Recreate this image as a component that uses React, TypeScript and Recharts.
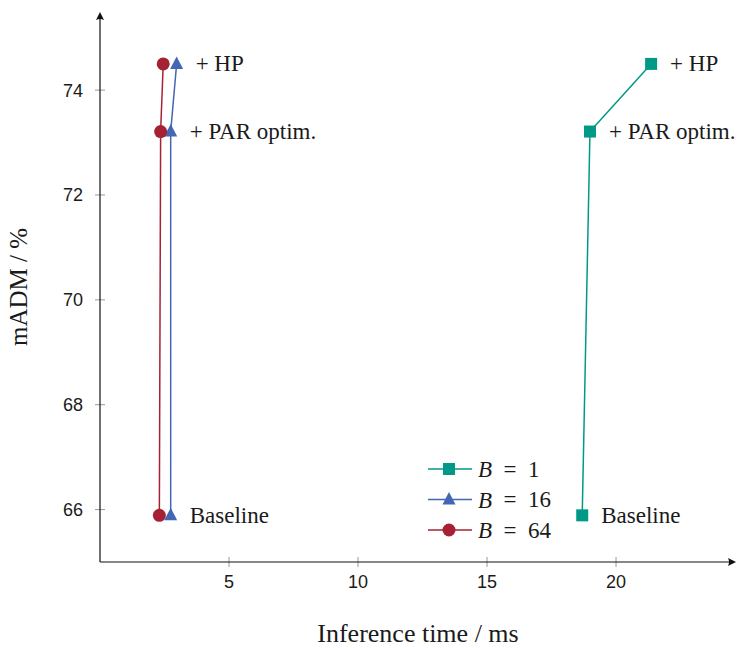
import React from "react";
import { ScatterChart, Scatter, XAxis, YAxis } from "recharts";

// steps of the optimisation, bottom to top
const steps = ["Baseline", "+ PAR optim.", "+ HP"];
const madm = [65.89, 73.21, 74.5];
const timeB1 = [18.69, 18.99, 21.36];
const timeB16 = [2.74, 2.74, 2.97];
const timeB64 = [2.3, 2.35, 2.45];
const xTicks = [5, 10, 15, 20];
const yTicks = [66, 68, 70, 72, 74];

const W = 737;
const H = 648;
const PLOT_LEFT = 100;
const PLOT_RIGHT = 736;
const PLOT_TOP = 12;
const X_AXIS_H = 86;
const PLOT_BOTTOM = H - X_AXIS_H;
const X_DOMAIN = [0, 24.65];
const Y_DOMAIN = [65, 75.49];

const SERIF = "'Liberation Serif', 'DejaVu Serif', serif";
const SANS = "'Liberation Sans', 'DejaVu Sans', sans-serif";

const series = [
  { name: "1", color: "#009988", kind: "square", times: timeB1, labels: true },
  { name: "16", color: "#4466B4", kind: "triangle", times: timeB16, labels: true },
  { name: "64", color: "#A52234", kind: "circle", times: timeB64, labels: false },
];

const marker = (kind: string, cx: number, cy: number, color: string) => {
  if (kind === "square")
    return <rect x={cx - 6} y={cy - 6} width={12} height={12} fill={color} />;
  if (kind === "triangle")
    return (
      <polygon
        points={`${cx},${cy - 7.5} ${cx - 6.5},${cy + 5} ${cx + 6.5},${cy + 5}`}
        fill={color}
      />
    );
  return <circle cx={cx} cy={cy} r={6.5} fill={color} />;
};

const makeShape = (kind: string, color: string) => (props: any) => {
  const { cx, cy, payload } = props;
  return (
    <g>
      {marker(kind, cx, cy, color)}
      {payload?.label ? (
        <text
          x={cx + 19}
          y={cy}
          dominantBaseline="central"
          fontFamily={SERIF}
          fontSize={23}
          fill="#1a1a1a"
        >
          {payload.label}
        </text>
      ) : null}
    </g>
  );
};

const LegendBox = () => (
  <svg
    width={150}
    height={92}
    style={{ position: "absolute", left: 425, top: 455 }}
  >
    {series.map((s, i) => {
      const y = 14 + i * 30.5;
      return (
        <g key={s.name}>
          <line x1={3} x2={47} y1={y} y2={y} stroke={s.color} strokeWidth={1.5} />
          {marker(s.kind, 24, y, s.color)}
          <text
            x={53}
            y={y}
            dominantBaseline="central"
            fontFamily={SERIF}
            fontSize={23}
            fill="#1a1a1a"
          >
            <tspan fontStyle="italic">B</tspan>{"\u2002=\u2002" + s.name}
          </text>
        </g>
      );
    })}
  </svg>
);

const px = (v: number) =>
  PLOT_LEFT + ((v - X_DOMAIN[0]) / (X_DOMAIN[1] - X_DOMAIN[0])) * (PLOT_RIGHT - PLOT_LEFT);
const py = (v: number) =>
  PLOT_BOTTOM - ((v - Y_DOMAIN[0]) / (Y_DOMAIN[1] - Y_DOMAIN[0])) * (PLOT_BOTTOM - PLOT_TOP);

const AxesOverlay = () => (
  <svg
    width={W}
    height={H}
    style={{ position: "absolute", left: 0, top: 0, pointerEvents: "none" }}
  >
    {xTicks.map((t) => (
      <line key={"x" + t} x1={px(t)} x2={px(t)} y1={PLOT_BOTTOM - 5} y2={PLOT_BOTTOM + 5} stroke="#999" strokeWidth={1} />
    ))}
    {yTicks.map((t) => (
      <line key={"y" + t} x1={PLOT_LEFT - 5} x2={PLOT_LEFT + 5} y1={py(t)} y2={py(t)} stroke="#999" strokeWidth={1} />
    ))}
    <line x1={PLOT_LEFT} x2={PLOT_RIGHT - 2} y1={PLOT_BOTTOM} y2={PLOT_BOTTOM} stroke="#111" strokeWidth={1.2} />
    <line x1={PLOT_LEFT} x2={PLOT_LEFT} y1={PLOT_BOTTOM} y2={PLOT_TOP + 2} stroke="#111" strokeWidth={1.2} />
    <path
      d={`M${PLOT_RIGHT},${PLOT_BOTTOM} L${PLOT_RIGHT - 8},${PLOT_BOTTOM - 4} Q${PLOT_RIGHT - 6},${PLOT_BOTTOM} ${PLOT_RIGHT - 8},${PLOT_BOTTOM + 4} Z`}
      fill="#111"
    />
    <path
      d={`M${PLOT_LEFT},${PLOT_TOP} L${PLOT_LEFT - 4},${PLOT_TOP + 8} Q${PLOT_LEFT},${PLOT_TOP + 6} ${PLOT_LEFT + 4},${PLOT_TOP + 8} Z`}
      fill="#111"
    />
    <text
      x={(PLOT_LEFT + PLOT_RIGHT) / 2}
      y={633}
      textAnchor="middle"
      dominantBaseline="central"
      fontFamily={SERIF}
      fontSize={26}
      fill="#1a1a1a"
    >
      Inference time / ms
    </text>
    <text
      x={18}
      y={(PLOT_TOP + PLOT_BOTTOM) / 2}
      textAnchor="middle"
      dominantBaseline="central"
      transform={`rotate(-90 18 ${(PLOT_TOP + PLOT_BOTTOM) / 2})`}
      fontFamily={SERIF}
      fontSize={25}
      fill="#1a1a1a"
    >
      mADM / %
    </text>
  </svg>
);

export default function App() {
  return (
    <div style={{ position: "absolute", left: 0, top: 0, width: W, height: H, background: "#fff" }}>
      <ScatterChart
        width={W}
        height={H}
        margin={{ top: PLOT_TOP, right: W - PLOT_RIGHT, bottom: 0, left: 0 }}
      >
        <XAxis
          type="number"
          dataKey="x"
          domain={X_DOMAIN}
          ticks={xTicks}
          height={X_AXIS_H}
          axisLine={false}
          tickLine={false}
          tickSize={8}
          tickMargin={5}
          tick={{ fontFamily: SANS, fontSize: 18, fill: "#1a1a1a" }}
        />
        <YAxis
          type="number"
          dataKey="y"
          domain={Y_DOMAIN}
          ticks={yTicks}
          width={PLOT_LEFT}
          axisLine={false}
          tickLine={false}
          tickSize={10}
          tickMargin={7}
          tick={{ fontFamily: SANS, fontSize: 18, fill: "#1a1a1a" }}
        />
        {series.map((s) => (
          <Scatter
            key={s.name}
            name={"B = " + s.name}
            data={madm.map((y, i) => ({
              x: s.times[i],
              y,
              label: s.labels ? steps[i] : "",
            }))}
            line={{ stroke: s.color, strokeWidth: 1.5 }}
            lineType="joint"
            shape={makeShape(s.kind, s.color)}
            isAnimationActive={false}
          />
        ))}
      </ScatterChart>
      <LegendBox />
      <AxesOverlay />
    </div>
  );
}
